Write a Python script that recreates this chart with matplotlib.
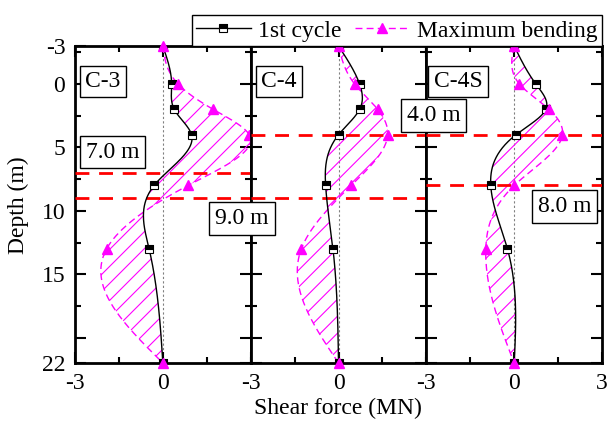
import numpy as np
import matplotlib
matplotlib.use("Agg")
import matplotlib.pyplot as plt
from matplotlib.patches import Polygon
from matplotlib.ticker import MultipleLocator

plt.rcParams["font.family"] = ["Liberation Serif", "DejaVu Serif"]
plt.rcParams["font.size"] = 17
plt.rcParams["axes.unicode_minus"] = False

# depths of the measuring points (m)
depth = [-3, 0, 2, 4, 8, 13, 22]

names = ["C-3", "C-4", "C-4S"]

# shear force after the 1st cycle (MN)
first_c3 = [0.0, 0.30, 0.39, 0.98, -0.30, -0.47, 0.0]
first_c4 = [0.0, 0.72, 0.72, 0.0, -0.44, -0.19, 0.0]
first_c4s = [0.0, 0.74, 1.08, 0.06, -0.80, -0.23, 0.0]

# shear force at maximum bending (MN)
maxb_c3 = [0.0, 0.52, 1.72, 2.95, 0.86, -1.92, 0.0]
maxb_c4 = [0.0, 0.55, 1.34, 1.68, 0.43, -1.27, 0.0]
maxb_c4s = [0.0, 0.18, 1.19, 1.65, 0.0, -0.97, 0.0]

# marker depths (m) for each pile
marks = [[7.0, 9.0], [4.0, 9.0], [4.0, 8.0]]


def spline(y, x, n=300):
    # natural cubic spline x(y), used for the smooth connecting line
    y = np.asarray(y, float)
    x = np.asarray(x, float)
    m = len(y)
    h = np.diff(y)
    A = np.zeros((m, m))
    b = np.zeros(m)
    A[0, 0] = A[-1, -1] = 1
    for i in range(1, m - 1):
        A[i, i - 1] = h[i - 1]
        A[i, i] = 2 * (h[i - 1] + h[i])
        A[i, i + 1] = h[i]
        b[i] = 6 * ((x[i + 1] - x[i]) / h[i] - (x[i] - x[i - 1]) / h[i - 1])
    M = np.linalg.solve(A, b)
    yy = np.linspace(y[0], y[-1], n)
    k = np.clip(np.searchsorted(y, yy) - 1, 0, m - 2)
    t0 = yy - y[k]
    t1 = y[k + 1] - yy
    hk = h[k]
    xx = (M[k] * t1 ** 3 / (6 * hk) + M[k + 1] * t0 ** 3 / (6 * hk)
          + (x[k] / hk - M[k] * hk / 6) * t1 + (x[k + 1] / hk - M[k + 1] * hk / 6) * t0)
    return yy, xx


def hatch(ax, patch, step=17):
    # 45 degree hatch lines, clipped to the filled area
    bb = ax.get_window_extent()
    w, h = bb.width, bb.height
    for c in np.arange(-h, w, step):
        ln, = ax.plot([c / w, (c + h) / w], [0, 1], transform=ax.transAxes,
                      color="magenta", lw=0.8, zorder=2)
        ln.set_clip_path(patch)


fig = plt.figure(figsize=(6.07, 4.28), dpi=100)
gs = fig.add_gridspec(1, 3, left=0.1236, right=0.9918, bottom=0.152, top=0.8925, wspace=0)
axes = [fig.add_subplot(gs[0, i]) for i in range(3)]

firsts = [first_c3, first_c4, first_c4s]
maxbs = [maxb_c3, maxb_c4, maxb_c4s]

for i, ax in enumerate(axes):
    ax.set_xlim(-3, 3)
    ax.set_ylim(22, -3)

    yy, xf = spline(depth, firsts[i])
    _, xm = spline(depth, maxbs[i])

    ax.axvline(0, color="gray", ls=(0, (2, 2)), lw=0.8, zorder=1)
    area = Polygon(np.column_stack([np.r_[xf, xm[::-1]], np.r_[yy, yy[::-1]]]),
                   closed=True, fc="none", ec="none", lw=0)
    ax.add_patch(area)
    hatch(ax, area)
    ax.plot(xm, yy, color="magenta", ls=(0, (5, 3)), lw=1, zorder=3)
    ax.plot(xf, yy, color="black", lw=1, zorder=4)
    ax.plot(firsts[i], depth, ls="none", marker="s", ms=6, mfc="black",
            mfcalt="white", fillstyle="top", mec="black", mew=0.8, zorder=5)
    ax.plot(maxbs[i], depth, ls="none", marker="^", ms=7.5, color="magenta",
            zorder=6, clip_on=False)

    for d in marks[i]:
        ax.axhline(d, color="red", ls=(0, (5, 3.5)), lw=2, zorder=3)

    ax.set_xlim(-3, 3)
    ax.set_ylim(22, -3)
    ax.xaxis.set_minor_locator(MultipleLocator(1.5))
    ax.set_yticks([-3, 0, 5, 10, 15, 20, 22])
    ax.yaxis.set_minor_locator(MultipleLocator(2.5))
    ax.tick_params(which="both", direction="in", top=True, right=True, width=1.5)
    ax.tick_params(which="major", length=8, pad=7)
    ax.tick_params(which="minor", length=4.5)
    for s in ax.spines.values():
        s.set_linewidth(2)
    if i == 0:
        ax.set_yticklabels(["-3", "0", "5", "10", "15", "", "22"])
    else:
        ax.tick_params(labelleft=False)
    if i < 2:
        ax.set_xticks([-3, 0])
    else:
        ax.set_xticks([-3, 0, 3])
    ax.text(0.16 if i < 2 else 0.18, 0.888, names[i], transform=ax.transAxes,
            ha="center", va="center", zorder=10,
            bbox=dict(boxstyle="square,pad=0.22", fc="white", ec="black", lw=1))

box = dict(boxstyle="square,pad=0.25", fc="white", ec="black", lw=1)
W, H = 607, 428
for txt, px, py in [("7.0 m", 112.5, 152), ("9.0 m", 242, 218.5),
                    ("4.0 m", 433.5, 115.5), ("8.0 m", 564.5, 206.5)]:
    fig.text(px / W, 1 - py / H, txt, ha="center", va="center", zorder=20, bbox=box)

fig.text(338 / W, 1 - 408 / H, "Shear force (MN)", ha="center", va="center")
fig.text(18 / W, 1 - 205 / H, "Depth (m)", ha="center", va="center", rotation=90)

h1, = axes[0].plot([], [], color="black", lw=1, marker="s", ms=6, mfc="black",
                   mfcalt="white", fillstyle="top", mec="black", mew=0.8)
h2, = axes[0].plot([], [], color="magenta", ls=(0, (5, 3)), lw=1, marker="^", ms=7.5)
leg = fig.legend([h1, h2], ["1st cycle", "Maximum bending"], loc="lower right",
                 bbox_to_anchor=(0.9918, 0.892), ncol=2, frameon=True, fancybox=False,
                 edgecolor="black", framealpha=1, borderpad=0.2, handlelength=2.3,
                 handletextpad=0.3, columnspacing=0.6, borderaxespad=0)
leg.get_frame().set_linewidth(1)
leg.set_zorder(30)

fig.savefig("out.png", dpi=100)
